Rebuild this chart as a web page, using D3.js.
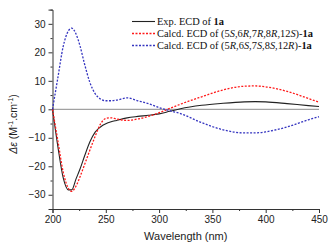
<!DOCTYPE html>
<html>
<head>
<meta charset="utf-8">
<script src="https://cdn.jsdelivr.net/npm/d3@7"></script>
<style>
  body { margin: 0; background: #fff; }
  svg { display: block; }
</style>
</head>
<body>
<div id="chart"></div>
<script>
// wavelength (nm) and delta epsilon values
const wavelength = [200, 205, 210, 215, 218, 222, 226, 230, 235, 240, 245, 250, 255, 260, 270, 280, 290, 300, 310, 320, 340, 360, 380, 390, 400, 420, 440, 450];
const expECD   = [0, -13, -24, -28.3, -28.3, -24.5, -20.8, -16.5, -11.5, -8.0, -6.2, -5.1, -4.4, -3.9, -3.0, -2.5, -2.1, -1.6, -0.7, 0.2, 1.4, 2.1, 2.6, 2.7, 2.6, 2.0, 1.3, 1.0];
const calcdA   = [0, -11, -22, -27.8, -28.8, -27, -23.5, -19.5, -14.4, -9.5, -5.2, -3.2, -3.0, -3.4, -3.9, -3.4, -2.5, -1.2, 0.3, 1.8, 4.4, 6.8, 8.1, 8.2, 7.9, 6.3, 3.8, 2.5];
const calcdB   = [0, 11, 22, 27.6, 28.5, 26.5, 22, 16, 9.5, 5.5, 3.6, 3.0, 3.0, 3.2, 4.0, 3.0, 2.0, 0.6, -0.5, -1.5, -4.7, -7.2, -8.3, -8.3, -7.9, -6.2, -3.7, -2.6];
const xTicks = [200, 250, 300, 350, 400, 450];
const yTicks = [-30, -20, -10, 0, 10, 20, 30];

const width = 335, height = 247;
const margin = { left: 52.5, right: 16, top: 9.6, bottom: 38 };

const svg = d3.select('#chart').append('svg')
    .attr('width', width)
    .attr('height', height);

const x = d3.scaleLinear().domain([200, 450]).range([margin.left, width - margin.right]);
const y = d3.scaleLinear().domain([-35, 35]).range([height - margin.bottom, margin.top]);

// zero line
svg.append('line')
    .attr('x1', x(200)).attr('x2', x(450))
    .attr('y1', y(0)).attr('y2', y(0))
    .attr('stroke', '#8a8a8a')
    .attr('stroke-width', 1);

// axes
const axisColor = '#333';
svg.append('g')
    .attr('transform', `translate(0,${y(-35)})`)
    .call(d3.axisBottom(x).tickValues(xTicks).tickSize(4).tickPadding(3));
svg.append('g')
    .attr('transform', `translate(0,${y(-35)})`)
    .call(d3.axisBottom(x).tickValues([225, 275, 325, 375, 425]).tickSize(2).tickFormat(''))
    .select('.domain').remove();

svg.append('g')
    .attr('transform', `translate(${x(200)},0)`)
    .call(d3.axisLeft(y).tickValues(yTicks).tickSize(4).tickPadding(3));
svg.append('g')
    .attr('transform', `translate(${x(200)},0)`)
    .call(d3.axisLeft(y).tickValues([-35, -25, -15, -5, 5, 15, 25, 35]).tickSize(2).tickFormat(''))
    .select('.domain').remove();

svg.selectAll('.domain, .tick line').attr('stroke', axisColor).attr('stroke-width', 1);
svg.selectAll('.tick text')
    .attr('fill', '#222')
    .style('font-family', 'Liberation Sans, Arial, sans-serif')
    .style('font-size', '10px');

// axis titles
svg.append('text')
    .attr('x', x(325))
    .attr('y', 240)
    .attr('text-anchor', 'middle')
    .style('font-family', 'Liberation Sans, Arial, sans-serif')
    .style('font-size', '11px')
    .attr('fill', '#222')
    .text('Wavelength (nm)');

const yTitle = svg.append('text')
    .attr('transform', `translate(17,124) rotate(-90)`)
    .attr('text-anchor', 'middle')
    .style('font-family', 'Liberation Sans, Arial, sans-serif')
    .style('font-size', '10.5px')
    .attr('fill', '#222');
yTitle.append('tspan').style('font-style', 'italic').text('Δε');
yTitle.append('tspan').text(' (M');
yTitle.append('tspan').attr('dy', -4).style('font-size', '7px').text('-1');
yTitle.append('tspan').attr('dy', 4).text('.cm');
yTitle.append('tspan').attr('dy', -4).style('font-size', '7px').text('-1');
yTitle.append('tspan').attr('dy', 4).text(')');

// curves
const series = [
    { name: 'exp', values: expECD, color: '#222', dash: null, width: 1.1 },
    { name: 'calcA', values: calcdA, color: '#ff1a1a', dash: '2,1.5', width: 1.3 },
    { name: 'calcB', values: calcdB, color: '#3535c0', dash: '2,1.5', width: 1.3 }
];

const line = d3.line()
    .x(d => x(d[0]))
    .y(d => y(d[1]))
    .curve(d3.curveMonotoneX);

svg.selectAll('.curve')
    .data(series)
    .enter()
    .append('path')
    .attr('class', 'curve')
    .attr('fill', 'none')
    .attr('stroke', d => d.color)
    .attr('stroke-width', d => d.width)
    .attr('stroke-dasharray', d => d.dash)
    .attr('d', d => line(wavelength.map((w, i) => [w, d.values[i]])));

// legend
const legend = svg.append('g').attr('transform', 'translate(132,21.5)');
const rows = legend.selectAll('g')
    .data(series)
    .enter()
    .append('g')
    .attr('transform', (d, i) => `translate(0,${i * 12})`);

rows.append('line')
    .attr('x1', 0).attr('x2', 23)
    .attr('y1', 0).attr('y2', 0)
    .attr('stroke', d => d.color)
    .attr('stroke-width', d => d.width)
    .attr('stroke-dasharray', d => d.dash);

const labelParts = [
    [['Exp. ECD of ', ''], ['1a', 'b']],
    [['Calcd. ECD of (5', ''], ['S', 'i'], [',6', ''], ['R', 'i'], [',7', ''], ['R', 'i'], [',8', ''], ['R', 'i'], [',12', ''], ['S', 'i'], [')-', ''], ['1a', 'b']],
    [['Calcd. ECD of (5', ''], ['R', 'i'], [',6', ''], ['S', 'i'], [',7', ''], ['S', 'i'], [',8', ''], ['S', 'i'], [',12', ''], ['R', 'i'], [')-', ''], ['1a', 'b']]
];

rows.append('text')
    .attr('x', 25)
    .attr('y', 3.5)
    .style('font-family', 'Liberation Serif, Times New Roman, serif')
    .style('font-size', '10.4px')
    .attr('fill', '#111')
    .each(function(d, i) {
        const t = d3.select(this);
        labelParts[i].forEach(([s, st]) => {
            t.append('tspan')
                .style('font-style', st === 'i' ? 'italic' : null)
                .style('font-weight', st === 'b' ? 'bold' : null)
                .text(s);
        });
    });
</script>
</body>
</html>
